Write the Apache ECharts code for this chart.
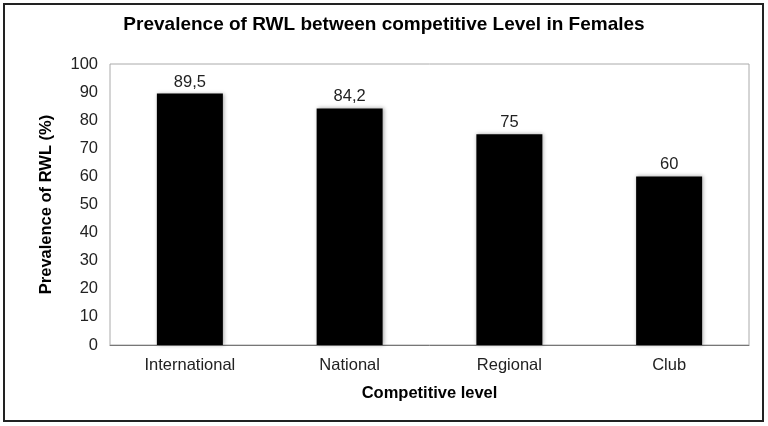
<!DOCTYPE html>
<html><head><meta charset="utf-8">
<script src="https://cdn.jsdelivr.net/npm/echarts@6/dist/echarts.min.js"></script>
<style>html,body{margin:0;padding:0;background:#fff}#c{width:768px;height:426px}</style>
</head><body><div id="c"></div>
<script>
var categories = ['International', 'National', 'Regional', 'Club'];
var values = [89.5, 84.2, 75, 60];
var valueLabels = ['89,5', '84,2', '75', '60'];
var title = 'Prevalence of RWL between competitive Level in Females';
var xName = 'Competitive level';
var yName = 'Prevalence of RWL (%)';

var font = '"Liberation Sans", Arial, sans-serif';
var chart = echarts.init(document.getElementById('c'));
chart.setOption({
  animation: false,
  title: {text: title, left: 'center', top: 10, textStyle: {fontFamily: font, fontSize: 19, fontWeight: 'bold', color: '#000'}},
  graphic: [{type: 'rect', shape: {x: 4, y: 4, width: 759, height: 417}, style: {fill: 'none', stroke: '#222', lineWidth: 2}, z: 100}],
  grid: {left: 110, right: 19, top: 64, bottom: 81, show: true, borderColor: '#aaa', borderWidth: 1},
  xAxis: {type: 'category', data: categories, name: xName, nameLocation: 'middle', nameGap: 40,
    nameTextStyle: {fontFamily: font, fontSize: 16.5, fontWeight: 'bold', color: '#000'},
    axisLine: {lineStyle: {color: '#777'}}, axisTick: {show: false},
    axisLabel: {fontFamily: font, fontSize: 16.5, color: '#222', margin: 12}},
  yAxis: {type: 'value', min: 0, max: 100, interval: 10, name: yName, nameLocation: 'middle', nameGap: 55,
    nameTextStyle: {fontFamily: font, fontSize: 16.5, fontWeight: 'bold', color: '#000'},
    axisLine: {show: false}, axisTick: {show: false}, splitLine: {show: false},
    axisLabel: {fontFamily: font, fontSize: 16.5, color: '#222', margin: 12}},
  series: [{type: 'bar', data: values, barWidth: 66,
    itemStyle: {color: '#000', shadowColor: 'rgba(0,0,0,0.35)', shadowBlur: 4, shadowOffsetX: 1},
    label: {show: true, position: 'top', distance: 3, fontFamily: font, fontSize: 16.5, color: '#222',
      formatter: function (p) { return valueLabels[p.dataIndex]; }}}]
});
</script></body></html>
